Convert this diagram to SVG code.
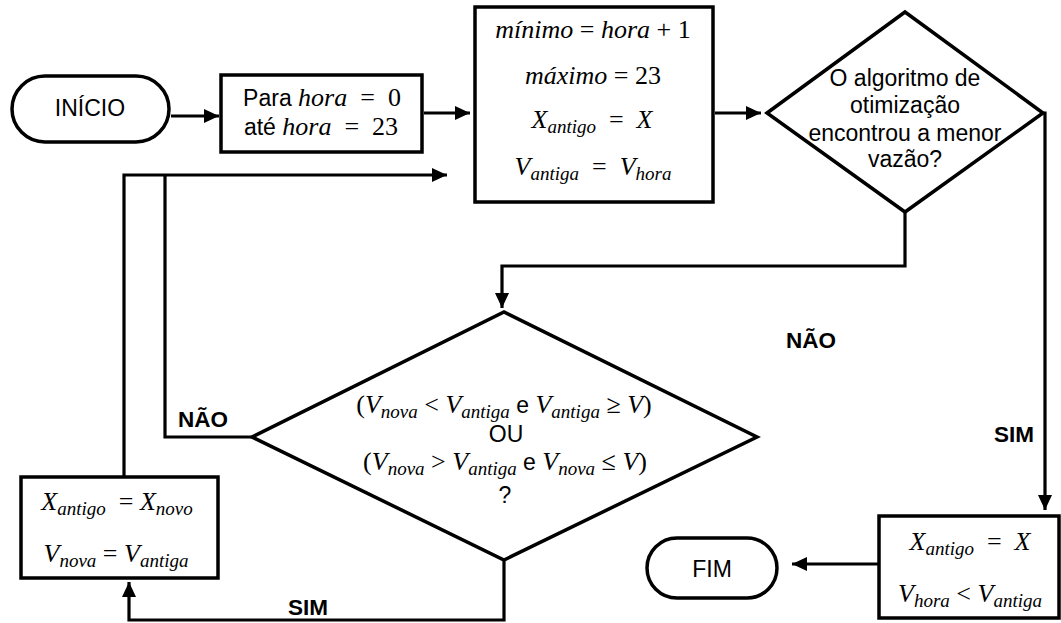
<svg xmlns="http://www.w3.org/2000/svg" width="1061" height="623" viewBox="0 0 1061 623">
<style>
.shape{fill:#fff;stroke:#000;stroke-width:3.5}
.line{fill:none;stroke:#000;stroke-width:3.2}
.sans{font-family:"Liberation Sans",Arial,sans-serif;font-size:23px;font-style:normal;fill:#000}
.b{font-family:"Liberation Sans",Arial,sans-serif;font-size:22.5px;font-weight:bold;fill:#000}
.m{font-family:"Liberation Serif","Times New Roman",serif;font-size:26px;font-style:italic;fill:#000}
.up{font-style:normal}
.s{font-size:19px}
</style>
<defs>
<marker id="ah" markerUnits="userSpaceOnUse" markerWidth="16" markerHeight="14" refX="15" refY="7" orient="auto">
<path d="M0,0 L15,7 L0,14 z" fill="#000"/>
</marker>
</defs>
<rect width="1061" height="623" fill="#fff"/>

<g id="connectors">
<line class="line" x1="171" y1="116" x2="219" y2="116" marker-end="url(#ah)"/>
<line class="line" x1="424" y1="113" x2="470" y2="113" marker-end="url(#ah)"/>
<line class="line" x1="715" y1="113" x2="761" y2="113" marker-end="url(#ah)"/>
<polyline class="line" points="905,212 905,266 502,266 502,308" marker-end="url(#ah)"/>
<polyline class="line" points="1043,113 1045,113 1045,510" marker-end="url(#ah)"/>
<line class="line" x1="879" y1="564" x2="792" y2="564" marker-end="url(#ah)"/>
<polyline class="line" points="124,477 124,175 447,175" marker-end="url(#ah)"/>
<polyline class="line" points="252,437 165,437 165,175"/>
<polyline class="line" points="504,560 504,620 129,620 129,582" marker-end="url(#ah)"/>
<text class="b" x="178" y="427">NÃO</text>
<text class="b" x="786" y="348">NÃO</text>
<text class="b" x="994" y="442">SIM</text>
<text class="b" x="288" y="615">SIM</text>
</g>

<g id="inicio">
<rect class="shape" x="12" y="76" width="157" height="66" rx="33" ry="33"/>
<text class="sans" x="90" y="116" text-anchor="middle">INÍCIO</text>
</g>

<g id="para">
<rect class="shape" x="221" y="75" width="201" height="77"/>
<text class="m" x="322" y="106" text-anchor="middle"><tspan class="sans">Para </tspan>hora<tspan class="up">&#160; = &#160;0</tspan></text>
<text class="m" x="321" y="135" text-anchor="middle"><tspan class="sans">até </tspan>hora<tspan class="up">&#160; = &#160;23</tspan></text>
</g>

<g id="init">
<rect class="shape" x="475" y="7" width="238" height="195"/>
<text class="m" x="593" y="38" text-anchor="middle">mínimo<tspan class="up"> = </tspan>hora<tspan class="up"> + 1</tspan></text>
<text class="m" x="593" y="84" text-anchor="middle">máximo<tspan class="up"> = 23</tspan></text>
<text class="m" x="592" y="128" text-anchor="middle">X<tspan class="s" dy="5">antigo</tspan><tspan class="up" dy="-5">&#160; = &#160;</tspan>X</text>
<text class="m" x="593" y="175" text-anchor="middle">V<tspan class="s" dy="5">antiga</tspan><tspan class="up" dy="-5">&#160; = &#160;</tspan>V<tspan class="s" dy="5">hora</tspan></text>
</g>

<g id="decision1">
<polygon class="shape" points="767,113 905,12 1043,113 905,212"/>
<text class="sans" x="905" y="86" text-anchor="middle">O algoritmo de</text>
<text class="sans" x="905" y="113" text-anchor="middle">otimização</text>
<text class="sans" x="905" y="141" text-anchor="middle">encontrou a menor</text>
<text class="sans" x="905" y="167" text-anchor="middle">vazão?</text>
</g>

<g id="decision2">
<polygon class="shape" points="252,437 504,312 757,437 504,560"/>
<text class="m" x="504" y="413" text-anchor="middle"><tspan class="up">(</tspan>V<tspan class="s" dy="5">nova</tspan><tspan class="up" dy="-5"> &lt; </tspan>V<tspan class="s" dy="5">antiga</tspan><tspan class="sans" dy="-5"> e </tspan>V<tspan class="s" dy="5">antiga</tspan><tspan class="up" dy="-5"> ≥ </tspan>V<tspan class="up">)</tspan></text>
<text class="sans" x="506" y="442" text-anchor="middle">OU</text>
<text class="m" x="505" y="470" text-anchor="middle"><tspan class="up">(</tspan>V<tspan class="s" dy="5">nova</tspan><tspan class="up" dy="-5"> &gt; </tspan>V<tspan class="s" dy="5">antiga</tspan><tspan class="sans" dy="-5"> e </tspan>V<tspan class="s" dy="5">nova</tspan><tspan class="up" dy="-5"> ≤ </tspan>V<tspan class="up">)</tspan></text>
<text class="sans" x="505" y="503" text-anchor="middle">?</text>
</g>

<g id="update">
<rect class="shape" x="21" y="477" width="197" height="101"/>
<text class="m" x="117" y="510" text-anchor="middle">X<tspan class="s" dy="5">antigo</tspan><tspan class="up" dy="-5">&#160; = </tspan>X<tspan class="s" dy="5">novo</tspan></text>
<text class="m" x="116" y="562" text-anchor="middle">V<tspan class="s" dy="5">nova</tspan><tspan class="up" dy="-5"> = </tspan>V<tspan class="s" dy="5">antiga</tspan></text>
</g>

<g id="result">
<rect class="shape" x="879" y="516" width="180" height="102"/>
<text class="m" x="970" y="550" text-anchor="middle">X<tspan class="s" dy="5">antigo</tspan><tspan class="up" dy="-5">&#160; = &#160;</tspan>X</text>
<text class="m" x="970" y="602" text-anchor="middle">V<tspan class="s" dy="5">hora</tspan><tspan class="up" dy="-5"> &lt; </tspan>V<tspan class="s" dy="5">antiga</tspan></text>
</g>

<g id="fim">
<rect class="shape" x="647" y="538" width="130" height="60" rx="30" ry="30"/>
<text class="sans" x="712" y="577" text-anchor="middle">FIM</text>
</g>
</svg>
